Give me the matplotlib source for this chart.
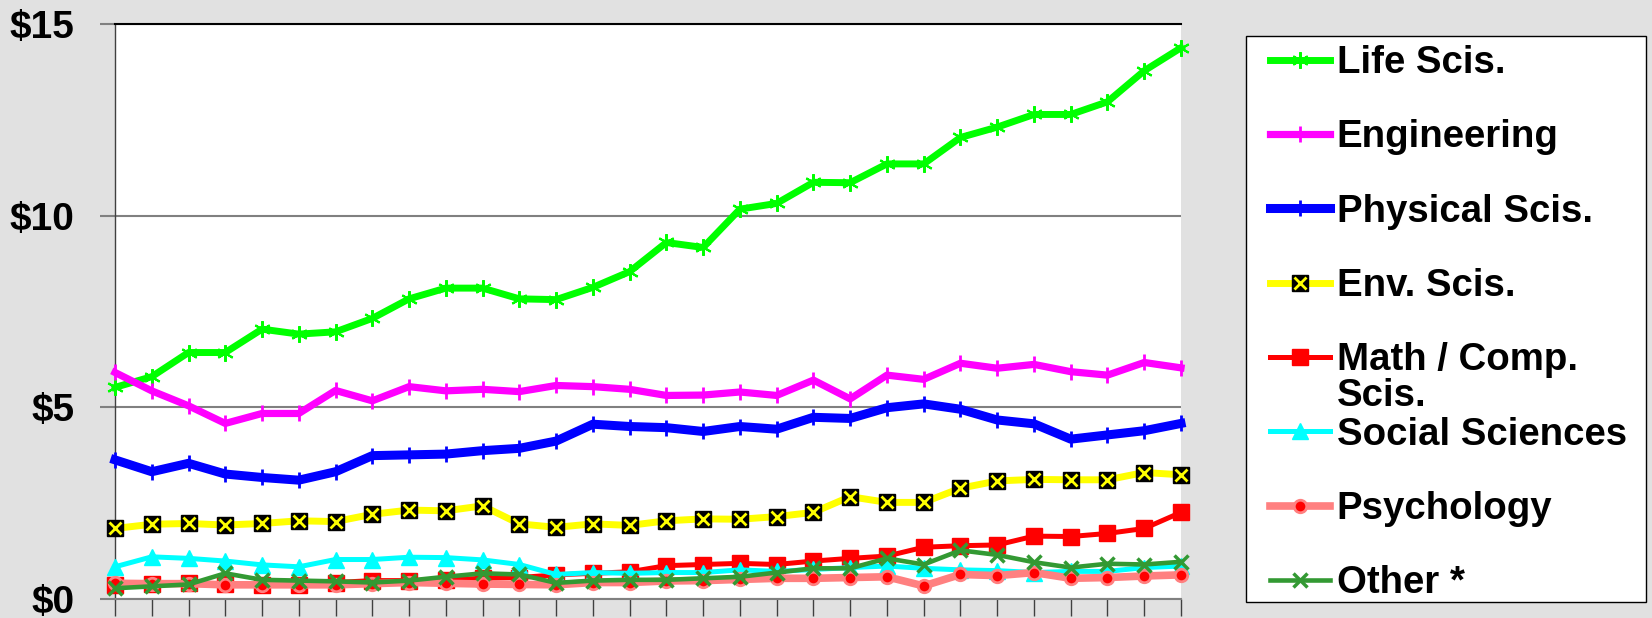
import numpy as np
import matplotlib
matplotlib.use("Agg")
import matplotlib.pyplot as plt
from matplotlib.patches import Rectangle
from matplotlib.text import Annotation
from matplotlib.legend_handler import HandlerTuple

plt.rcParams['font.family'] = ['Liberation Sans', 'DejaVu Sans']
plt.rcParams['font.weight'] = 'bold'

# R&D obligations by field, billions of dollars
life = [5.52, 5.80, 6.43, 6.43, 7.04, 6.91, 6.97, 7.32, 7.83, 8.11,
        8.11, 7.83, 7.81, 8.13, 8.54, 9.30, 9.17, 10.17, 10.32, 10.87,
        10.86, 11.35, 11.35, 12.04, 12.31, 12.64, 12.64, 12.97, 13.78, 14.38]
eng = [5.91, 5.43, 5.04, 4.58, 4.84, 4.84, 5.44, 5.17, 5.54, 5.43,
       5.47, 5.41, 5.57, 5.54, 5.47, 5.31, 5.32, 5.40, 5.31, 5.71,
       5.22, 5.84, 5.73, 6.15, 6.02, 6.12, 5.93, 5.84, 6.17, 6.03]
phys = [3.63, 3.32, 3.54, 3.26, 3.17, 3.10, 3.32, 3.74, 3.76, 3.78,
        3.87, 3.93, 4.12, 4.56, 4.50, 4.47, 4.37, 4.50, 4.43, 4.74,
        4.71, 4.99, 5.09, 4.95, 4.67, 4.57, 4.17, 4.28, 4.39, 4.58]
env = [1.84, 1.95, 1.97, 1.93, 1.97, 2.04, 2.02, 2.21, 2.32, 2.30,
       2.43, 1.96, 1.87, 1.96, 1.92, 2.04, 2.09, 2.08, 2.15, 2.26,
       2.67, 2.52, 2.52, 2.89, 3.08, 3.12, 3.11, 3.11, 3.30, 3.24]
math_cs = [0.37, 0.39, 0.41, 0.38, 0.37, 0.37, 0.43, 0.48, 0.48, 0.50,
           0.54, 0.56, 0.63, 0.67, 0.71, 0.87, 0.90, 0.93, 0.90, 0.99,
           1.06, 1.12, 1.35, 1.39, 1.41, 1.64, 1.63, 1.71, 1.84, 2.26]
social = [0.84, 1.10, 1.06, 0.99, 0.89, 0.84, 1.03, 1.03, 1.09, 1.08,
          1.02, 0.90, 0.64, 0.69, 0.67, 0.69, 0.69, 0.76, 0.72, 0.77,
          0.82, 0.86, 0.80, 0.76, 0.74, 0.69, 0.72, 0.72, 0.82, 0.86]
psych = [0.41, 0.40, 0.40, 0.37, 0.37, 0.37, 0.37, 0.40, 0.43, 0.41,
         0.39, 0.38, 0.37, 0.43, 0.43, 0.47, 0.48, 0.51, 0.54, 0.54,
         0.56, 0.58, 0.34, 0.64, 0.61, 0.69, 0.54, 0.56, 0.60, 0.63]
other = [0.28, 0.33, 0.38, 0.67, 0.50, 0.48, 0.46, 0.43, 0.48, 0.58,
         0.67, 0.64, 0.42, 0.48, 0.50, 0.50, 0.54, 0.58, 0.69, 0.80,
         0.80, 1.06, 0.90, 1.27, 1.15, 0.96, 0.82, 0.92, 0.90, 0.97]

yticks = [0, 5, 10, 15]
ytick_labels = ['$0', '$5', '$10', '$15']

x = np.arange(len(life))
bg = '#e1e1e1'

fig = plt.figure(figsize=(16.52, 6.18), dpi=100, facecolor=bg)
ax = fig.add_axes([115 / 1652, 1 - 599 / 618, 1066 / 1652, 575 / 618])
ax.set_facecolor('white')

kw = dict(clip_on=False, zorder=3)
h_life, = ax.plot(x, life, color='#00ff00', lw=5, marker=(6, 2, 0), ms=12, mew=1.5, **kw)
h_eng, = ax.plot(x, eng, color='#ff00ff', lw=5.2, marker='|', ms=12, mew=2, **kw)
h_phys, = ax.plot(x, phys, color='#0000ff', lw=6.5, marker='|', ms=12, mew=2, **kw)
h_env, = ax.plot(x, env, color='#ffff00', lw=5, marker='s', ms=11.5,
                 mfc='black', mec='black', **kw)
h_env2, = ax.plot(x, env, ls='none', marker='x', ms=8, mew=2, color='#ffff00', **kw)
h_math, = ax.plot(x, math_cs, color='#ff0000', lw=3.6, marker='s', ms=11.5, **kw)
h_soc, = ax.plot(x, social, color='#00ffff', lw=3.6, marker='^', ms=11, **kw)
h_psy, = ax.plot(x, psych, color='#ff8080', lw=5.5, marker='o', ms=9,
                 mfc='#ff0000', mec='#ff8080', mew=2, **kw)
h_oth, = ax.plot(x, other, color='#339933', lw=3.3, marker='x', ms=10, mew=2.5, **kw)

ax.set_xlim(0, len(life) - 1)
ax.set_ylim(0, 15)
ax.set_xticks(x)
ax.set_xticklabels([])
ax.set_yticks(yticks)
ax.set_yticklabels(ytick_labels, fontsize=28, fontweight='bold')
ax.yaxis.grid(True, color='#808080', lw=1.5)
ax.set_axisbelow(True)
ax.tick_params(axis='y', length=11, width=1.5, color='#808080', pad=18)
ax.tick_params(axis='x', length=12, width=1, color='#404040', direction='out')

ax.spines['right'].set_visible(False)
ax.spines['top'].set_color('black')
ax.spines['top'].set_linewidth(1.5)
ax.spines['left'].set_color('#404040')
ax.spines['left'].set_linewidth(1)
ax.spines['bottom'].set_color('#808080')
ax.spines['bottom'].set_linewidth(1.5)

# legend box
fig.add_artist(Rectangle((1246 / 1652, 1 - 602 / 618), 400 / 1652, 566 / 618,
                         transform=fig.transFigure, facecolor='white',
                         edgecolor='black', lw=1, zorder=1))

handles = [h_life, h_eng, h_phys, (h_env, h_env2), h_math, h_soc, h_psy, h_oth]
labels = ['Life Scis.', 'Engineering', 'Physical Scis.', 'Env. Scis.',
          'Math / Comp.', 'Social Sciences', 'Psychology', 'Other *']
leg = fig.legend(handles, labels, loc='upper left',
                 bbox_to_anchor=(1270 / 1652, 1 - 45 / 618),
                 frameon=False, fontsize=27.6, borderpad=0, borderaxespad=0,
                 handlelength=1.56, handletextpad=0.18, labelspacing=1.0,
                 handler_map={tuple: HandlerTuple(ndivide=1)})
leg.set_zorder(5)

# second line of the Math / Comp. label, overlapping the next entry as in the original
scis = Annotation('Scis.', xy=(0, 0), xycoords=leg.get_texts()[4],
                  xytext=(0, 0), textcoords='offset points', ha='left', va='top',
                  fontsize=27.6, fontweight='bold', annotation_clip=False)
scis.set_zorder(6)
fig.add_artist(scis)

fig.savefig('out.png', dpi=100, facecolor=bg)
